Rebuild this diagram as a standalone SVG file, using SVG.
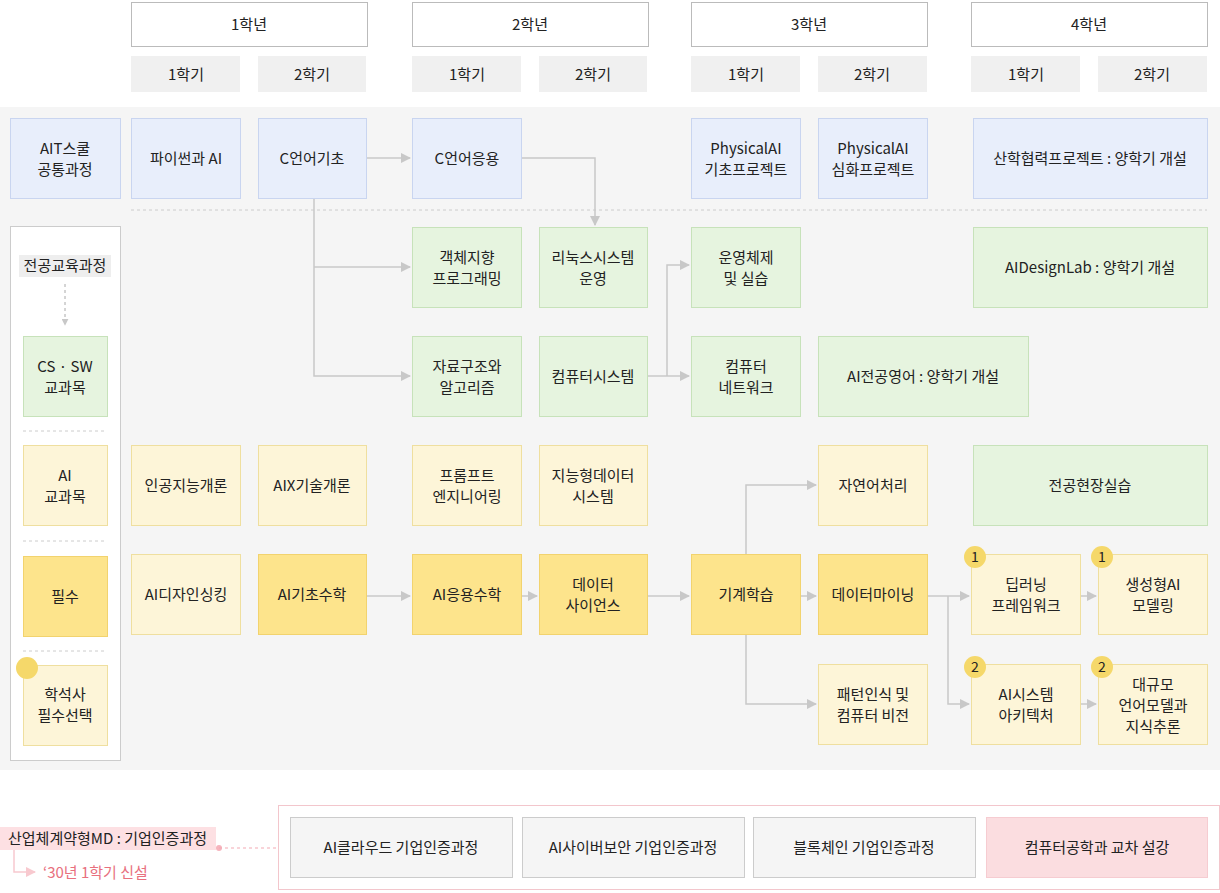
<svg xmlns="http://www.w3.org/2000/svg" width="1220" height="893" viewBox="0 0 1220 893">
<style>
text{font-family:"Noto Sans CJK KR","Noto Sans",sans-serif;font-size:15px;fill:#222;text-anchor:middle}
.hd{fill:#fff;stroke:#bbb}
.sm{fill:#f0f0f0}
.b{fill:#e8eefb;stroke:#c9d5f0}
.g{fill:#e6f4df;stroke:#c7e2ba}
.y{fill:#fdf5d8;stroke:#efdf9f}
.s{fill:#fde48c;stroke:#f2d36e}
.bd{fill:#f5d86a}
.c{fill:none;stroke:#c8c8c8;stroke-width:1.5}
</style>
<defs><marker id="a" viewBox="0 0 10 10" refX="9" refY="5" markerWidth="7" markerHeight="7" orient="auto"><path d="M0,0L10,5L0,10z" fill="#c8c8c8"/></marker>
<marker id="p" viewBox="0 0 10 10" refX="9" refY="5" markerWidth="7" markerHeight="7" orient="auto"><path d="M0,0L10,5L0,10z" fill="#f8c9cf"/></marker></defs>
<rect width="1220" height="893" fill="#fff"/>
<g id="headers">
<rect class="hd" x="131.5" y="2.5" width="236" height="44"/><text x="249" y="30">1학년</text>
<rect class="hd" x="412.5" y="2.5" width="236" height="44"/><text x="530" y="30">2학년</text>
<rect class="hd" x="691.5" y="2.5" width="236" height="44"/><text x="809" y="30">3학년</text>
<rect class="hd" x="971.5" y="2.5" width="236" height="44"/><text x="1089" y="30">4학년</text>
<rect class="sm" x="131" y="56" width="109" height="36"/><text x="186" y="80">1학기</text>
<rect class="sm" x="258" y="56" width="108" height="36"/><text x="312" y="80">2학기</text>
<rect class="sm" x="412" y="56" width="109" height="36"/><text x="467" y="80">1학기</text>
<rect class="sm" x="539" y="56" width="108" height="36"/><text x="593" y="80">2학기</text>
<rect class="sm" x="691" y="56" width="109" height="36"/><text x="746" y="80">1학기</text>
<rect class="sm" x="818" y="56" width="109" height="36"/><text x="872" y="80">2학기</text>
<rect class="sm" x="971" y="56" width="109" height="36"/><text x="1026" y="80">1학기</text>
<rect class="sm" x="1098" y="56" width="109" height="36"/><text x="1152" y="80">2학기</text>
</g>
<rect x="0" y="107" width="1220" height="663" fill="#f5f5f5"/>
<line x1="131" y1="210" x2="1207" y2="210" stroke="#ccc" stroke-dasharray="3,3"/>
<g id="legend">
<rect x="10.5" y="226.5" width="110" height="534" fill="#fff" stroke="#ccc"/>
<rect x="19" y="255" width="92" height="22" fill="#eee"/><text x="65" y="271">전공교육과정</text>
<line x1="65" y1="284" x2="65" y2="325" stroke="#aaa" stroke-dasharray="3,3" marker-end="url(#a)"/>
<rect class="g" x="23.5" y="336.5" width="84" height="80"/><text x="65" y="372">CS · SW</text><text x="65" y="393">교과목</text>
<line x1="23" y1="431" x2="107" y2="431" stroke="#ccc" stroke-dasharray="3,3"/>
<rect class="y" x="23.5" y="445.5" width="84" height="80"/><text x="65" y="481">AI</text><text x="65" y="502">교과목</text>
<line x1="23" y1="541" x2="107" y2="541" stroke="#ccc" stroke-dasharray="3,3"/>
<rect class="s" x="23.5" y="556.5" width="84" height="80"/><text x="65" y="602">필수</text>
<line x1="23" y1="651" x2="107" y2="651" stroke="#ccc" stroke-dasharray="3,3"/>
<rect class="y" x="23.5" y="665.5" width="84" height="80"/><circle class="bd" cx="27" cy="668" r="11"/><text x="65" y="700">학석사</text><text x="65" y="721">필수선택</text>
</g>
<g id="connectors">
<path class="c" d="M366,158H410" marker-end="url(#a)"/>
<path class="c" d="M521,158H595V225" marker-end="url(#a)"/>
<path class="c" d="M314,198V376H410" marker-end="url(#a)"/>
<path class="c" d="M314,267H410" marker-end="url(#a)"/>
<path class="c" d="M647,376H689" marker-end="url(#a)"/>
<path class="c" d="M667,376V265H689" marker-end="url(#a)"/>
<path class="c" d="M366,596H410" marker-end="url(#a)"/>
<path class="c" d="M521,596H537" marker-end="url(#a)"/>
<path class="c" d="M647,596H689" marker-end="url(#a)"/>
<path class="c" d="M800,596H816" marker-end="url(#a)"/>
<path class="c" d="M746,554V485H816" marker-end="url(#a)"/>
<path class="c" d="M746,634V704H816" marker-end="url(#a)"/>
<path class="c" d="M927,596H969" marker-end="url(#a)"/>
<path class="c" d="M948,596V704H969" marker-end="url(#a)"/>
<path class="c" d="M1080,596H1096" marker-end="url(#a)"/>
<path class="c" d="M1080,704H1096" marker-end="url(#a)"/>
</g>
<g id="n-ait"><rect class="b" x="10.5" y="118.5" width="110" height="80"/><text x="65" y="154">AIT스쿨</text><text x="65" y="175">공통과정</text></g>
<g id="n-python"><rect class="b" x="131.5" y="118.5" width="109" height="80"/><text x="186" y="164">파이썬과 AI</text></g>
<g id="n-c1"><rect class="b" x="258.5" y="118.5" width="108" height="80"/><text x="312" y="164">C언어기초</text></g>
<g id="n-c2"><rect class="b" x="412.5" y="118.5" width="109" height="80"/><text x="467" y="164">C언어응용</text></g>
<g id="n-pa1"><rect class="b" x="691.5" y="118.5" width="109" height="80"/><text x="746" y="154">PhysicalAI</text><text x="746" y="175">기초프로젝트</text></g>
<g id="n-pa2"><rect class="b" x="818.5" y="118.5" width="109" height="80"/><text x="873" y="154">PhysicalAI</text><text x="873" y="175">심화프로젝트</text></g>
<g id="n-sanhak"><rect class="b" x="973.5" y="118.5" width="234" height="80"/><text x="1090" y="164">산학협력프로젝트 : 양학기 개설</text></g>
<g id="n-oop"><rect class="g" x="412.5" y="227.5" width="109" height="80"/><text x="467" y="263">객체지향</text><text x="467" y="284">프로그래밍</text></g>
<g id="n-linux"><rect class="g" x="539.5" y="227.5" width="108" height="80"/><text x="593" y="263">리눅스시스템</text><text x="593" y="284">운영</text></g>
<g id="n-os"><rect class="g" x="691.5" y="227.5" width="109" height="80"/><text x="746" y="263">운영체제</text><text x="746" y="284">및 실습</text></g>
<g id="n-adl"><rect class="g" x="973.5" y="227.5" width="234" height="80"/><text x="1090" y="273">AIDesignLab : 양학기 개설</text></g>
<g id="n-ds"><rect class="g" x="412.5" y="336.5" width="109" height="80"/><text x="467" y="372">자료구조와</text><text x="467" y="393">알고리즘</text></g>
<g id="n-cs"><rect class="g" x="539.5" y="336.5" width="108" height="80"/><text x="593" y="382">컴퓨터시스템</text></g>
<g id="n-net"><rect class="g" x="691.5" y="336.5" width="109" height="80"/><text x="746" y="372">컴퓨터</text><text x="746" y="393">네트워크</text></g>
<g id="n-eng"><rect class="g" x="818.5" y="336.5" width="210" height="80"/><text x="923" y="382">AI전공영어 : 양학기 개설</text></g>
<g id="n-ai1"><rect class="y" x="131.5" y="445.5" width="109" height="80"/><text x="186" y="491">인공지능개론</text></g>
<g id="n-aix"><rect class="y" x="258.5" y="445.5" width="108" height="80"/><text x="312" y="491">AIX기술개론</text></g>
<g id="n-prompt"><rect class="y" x="412.5" y="445.5" width="109" height="80"/><text x="467" y="481">프롬프트</text><text x="467" y="502">엔지니어링</text></g>
<g id="n-ids"><rect class="y" x="539.5" y="445.5" width="108" height="80"/><text x="593" y="481">지능형데이터</text><text x="593" y="502">시스템</text></g>
<g id="n-nlp"><rect class="y" x="818.5" y="445.5" width="109" height="80"/><text x="873" y="491">자연어처리</text></g>
<g id="n-intern"><rect class="g" x="973.5" y="445.5" width="234" height="80"/><text x="1090" y="491">전공현장실습</text></g>
<g id="n-adt"><rect class="y" x="131.5" y="554.5" width="109" height="80"/><text x="186" y="600">AI디자인싱킹</text></g>
<g id="n-math1"><rect class="s" x="258.5" y="554.5" width="108" height="80"/><text x="312" y="600">AI기초수학</text></g>
<g id="n-math2"><rect class="s" x="412.5" y="554.5" width="109" height="80"/><text x="467" y="600">AI응용수학</text></g>
<g id="n-dsci"><rect class="s" x="539.5" y="554.5" width="108" height="80"/><text x="593" y="590">데이터</text><text x="593" y="611">사이언스</text></g>
<g id="n-ml"><rect class="s" x="691.5" y="554.5" width="109" height="80"/><text x="746" y="600">기계학습</text></g>
<g id="n-dm"><rect class="s" x="818.5" y="554.5" width="109" height="80"/><text x="873" y="600">데이터마이닝</text></g>
<g id="n-dl"><rect class="y" x="971.5" y="554.5" width="109" height="80"/><circle class="bd" cx="975" cy="557" r="11"/><text x="975" y="562" style="font-size:14px">1</text><text x="1026" y="590">딥러닝</text><text x="1026" y="611">프레임워크</text></g>
<g id="n-gen"><rect class="y" x="1098.5" y="554.5" width="109" height="80"/><circle class="bd" cx="1102" cy="557" r="11"/><text x="1102" y="562" style="font-size:14px">1</text><text x="1153" y="590">생성형AI</text><text x="1153" y="611">모델링</text></g>
<g id="n-pr"><rect class="y" x="818.5" y="664.5" width="109" height="80"/><text x="873" y="700">패턴인식 및</text><text x="873" y="721">컴퓨터 비전</text></g>
<g id="n-sys"><rect class="y" x="971.5" y="664.5" width="109" height="80"/><circle class="bd" cx="975" cy="667" r="11"/><text x="975" y="672" style="font-size:14px">2</text><text x="1026" y="700">AI시스템</text><text x="1026" y="721">아키텍처</text></g>
<g id="n-llm"><rect class="y" x="1098.5" y="664.5" width="109" height="80"/><circle class="bd" cx="1102" cy="667" r="11"/><text x="1102" y="672" style="font-size:14px">2</text><text x="1153" y="690">대규모</text><text x="1153" y="711">언어모델과</text><text x="1153" y="732">지식추론</text></g>
<g id="bottom">
<rect x="278.5" y="805.5" width="941" height="84" fill="#fff" stroke="#f3c6cc"/>
<rect x="0" y="827" width="216" height="23" fill="#fde0e3"/>
<text x="8" y="844" style="text-anchor:start">산업체계약형MD : 기업인증과정</text>
<circle cx="219" cy="848" r="3" fill="#f6b4bd"/>
<line x1="219" y1="848" x2="278" y2="848" stroke="#f3a9b3" stroke-dasharray="3,3"/>
<path d="M14,850V872H35" fill="none" stroke="#f8c9cf" stroke-width="1.5" marker-end="url(#p)"/>
<text x="43" y="878" style="text-anchor:start;fill:#e8707e">‘30년 1학기 신설</text>
<rect x="290.5" y="817.5" width="222" height="60" fill="#f5f5f5" stroke="#ccc"/><text x="401" y="853">AI클라우드 기업인증과정</text>
<rect x="522.5" y="817.5" width="222" height="60" fill="#f5f5f5" stroke="#ccc"/><text x="633" y="853">AI사이버보안 기업인증과정</text>
<rect x="753.5" y="817.5" width="222" height="60" fill="#f5f5f5" stroke="#ccc"/><text x="864" y="853">블록체인 기업인증과정</text>
<rect x="986.5" y="817.5" width="221" height="60" fill="#fbdde0" stroke="#f6ccd1"/><text x="1097" y="853">컴퓨터공학과 교차 설강</text>
</g>
</svg>
